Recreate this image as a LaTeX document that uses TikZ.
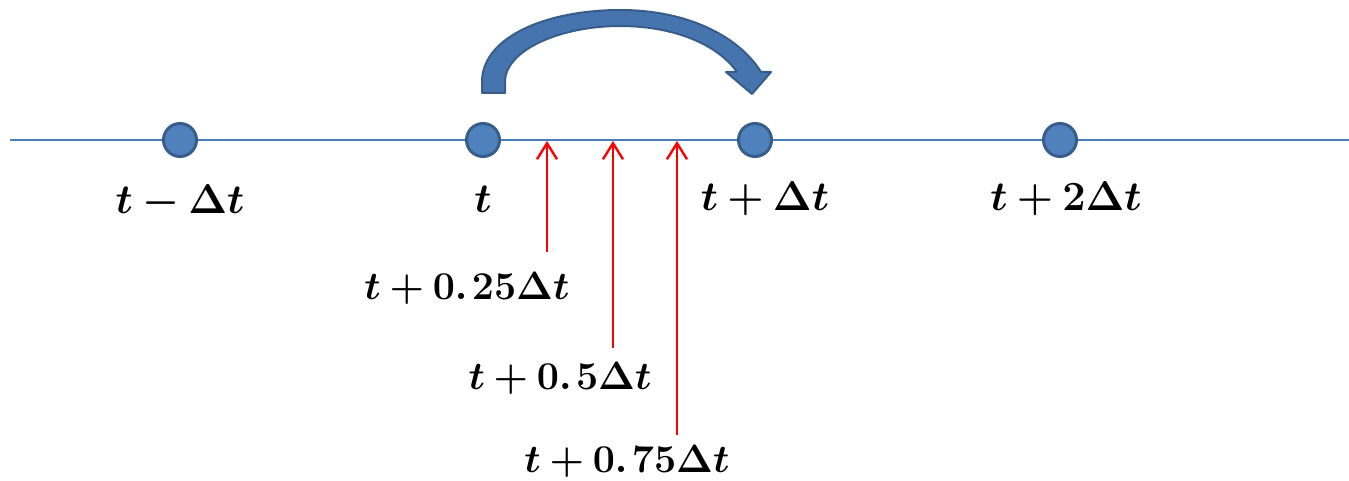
\documentclass[tikz,border=0pt]{standalone}
\usepackage{amsmath,bm}
\usetikzlibrary{arrows.meta}
\definecolor{lineblue}{HTML}{4A7EBB}
\definecolor{dotfill}{HTML}{4F81BD}
\definecolor{dotedge}{HTML}{385D8A}
\definecolor{arcfill}{HTML}{4674AE}
\begin{document}
\begin{tikzpicture}[x=1pt,y=-1pt,
  dot/.style={circle,fill=dotfill,draw=dotedge,line width=3pt,minimum size=33pt,inner sep=0pt},
  lbl/.style={font=\fontsize{20}{24}\selectfont,inner sep=0pt,scale=2},
  sublbl/.style={lbl,scale=0.95},
  redarrow/.style={red,line width=2.4pt,-{Straight Barb[length=16pt,width=20pt]}}]
\useasboundingbox (0,0) rectangle (1349,481);
% time axis
\coordinate (L) at (10,140);
\coordinate (R) at (1349,140);
\draw[lineblue,line width=2pt] (L) -- (R);
% curved jump arrow
\draw[dotedge,fill=arcfill,line width=2pt,line join=round]
  (482,93) -- (482,80) .. controls (484,35) and (550,10) .. (620,10)
  .. controls (690,10) and (740,38) .. (761,72) -- (771,72) -- (752,94) -- (726,72) -- (737,72)
  .. controls (718,45) and (675,26) .. (620,26)
  .. controls (560,26) and (507,50) .. (505,80) -- (505,93) -- cycle;
% dots
\node[dot] (d1) at (180,140) {};
\node[dot] (d2) at (483,140) {};
\node[dot] (d3) at (755,140) {};
\node[dot] (d4) at (1060,140) {};
% labels
\node[lbl] (l1) at (180,202) {$\bm{t-\Delta t}$};
\node[lbl] (l2) at (483,199) {$\bm{t}$};
\node[lbl] (l3) at (765,199) {$\bm{t+\Delta t}$};
\node[lbl] (l4) at (1066,199) {$\bm{t+2\Delta t}$};
% intermediate points
\coordinate (a1) at (547,141);
\coordinate (a2) at (613,141);
\coordinate (a3) at (677,141);
\coordinate (b1) at (547,252);
\coordinate (b2) at (613,348);
\coordinate (b3) at (677,435);
\draw[redarrow] (b1) -- (a1);
\draw[redarrow] (b2) -- (a2);
\draw[redarrow] (b3) -- (a3);
\node[sublbl] (m1) at (467,288) {$\bm{t+0.\mkern2mu25\Delta t}$};
\node[sublbl] (m2) at (560,378) {$\bm{t+0.\mkern2mu5\Delta t}$};
\node[sublbl] (m3) at (627,461) {$\bm{t+0.\mkern2mu75\Delta t}$};
\end{tikzpicture}
\end{document}
